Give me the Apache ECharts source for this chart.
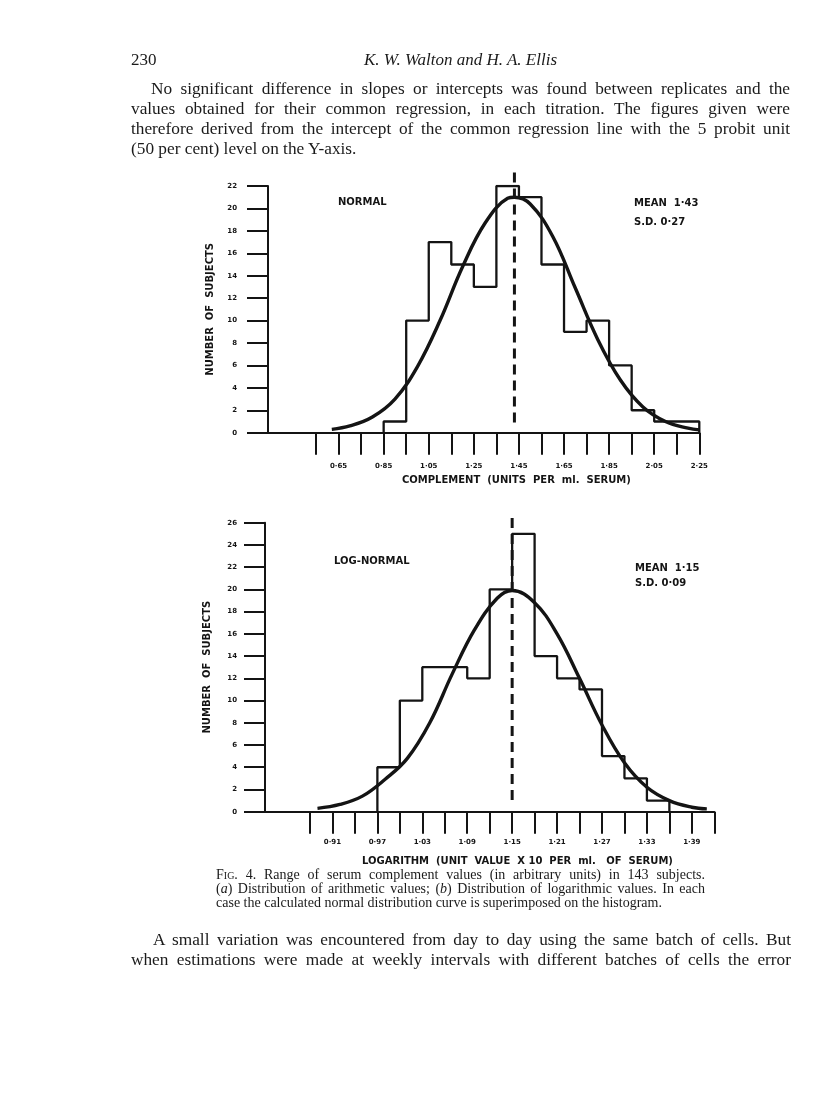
<!DOCTYPE html>
<html>
<head>
<meta charset="utf-8">
<script src="https://cdn.jsdelivr.net/npm/echarts@6/dist/echarts.min.js"></script>
<style>
  html, body { margin:0; padding:0; background:#fff; }
  #page { position:relative; width:816px; height:1108px; overflow:hidden; background:#fff; }
  #chart { position:absolute; left:0; top:0; width:816px; height:1108px; }
  .txt { position:absolute; font-family:"Liberation Serif","DejaVu Serif",serif; color:#1a1a1a; }
  .ln { text-align:justify; text-align-last:justify; white-space:nowrap; }
  .last { text-align:left; text-align-last:left; }
</style>
</head>
<body>
<div id="page">
  <div id="chart"></div>
  <div class="txt" style="left:131px;top:50px;font-size:17px;line-height:20px;">230</div>
  <div class="txt" style="left:131px;top:50px;width:659px;text-align:center;font-size:17px;line-height:20px;font-style:italic;">K. W. Walton and H. A. Ellis</div>
  <div class="txt" style="left:131px;top:79px;width:659px;font-size:17.3px;line-height:20px;">
    <div class="ln" style="padding-left:20px;">No significant difference in slopes or intercepts was found between replicates and the</div>
    <div class="ln">values obtained for their common regression, in each titration. The figures given were</div>
    <div class="ln">therefore derived from the intercept of the common regression line with the 5 probit unit</div>
    <div class="ln last">(50 per cent) level on the Y-axis.</div>
  </div>
  <div class="txt" style="left:216px;top:868px;width:489px;font-size:14px;line-height:14px;">
    <div class="ln">F<span style="font-variant:small-caps;">ig</span>. 4. Range of serum complement values (in arbitrary units) in 143 subjects.</div>
    <div class="ln">(<i>a</i>) Distribution of arithmetic values; (<i>b</i>) Distribution of logarithmic values. In each</div>
    <div class="ln last">case the calculated normal distribution curve is superimposed on the histogram.</div>
  </div>
  <div class="txt" style="left:131px;top:930px;width:660px;font-size:17.3px;line-height:20px;">
    <div class="ln" style="padding-left:22px;">A small variation was encountered from day to day using the same batch of cells. But</div>
    <div class="ln">when estimations were made at weekly intervals with different batches of cells the error</div>
  </div>
</div>
<script>
// ---------- Data ----------
// (a) Normal: arithmetic complement values
const topEdges  = [0.85, 0.95, 1.05, 1.15, 1.25, 1.35, 1.45, 1.55, 1.65, 1.75, 1.85, 1.95, 2.05, 2.15, 2.25];
const topCounts = [1, 10, 17, 15, 13, 22, 21, 15, 9, 10, 6, 2, 1, 1];
const topCurveX = [0.62, 0.70, 0.80, 0.90, 1.00, 1.10, 1.20, 1.30, 1.40, 1.43, 1.50, 1.60, 1.70, 1.80, 1.90, 2.00, 2.10, 2.20, 2.25];
const topCurveY = [0.3, 0.6, 1.4, 3.0, 5.9, 10.0, 14.8, 18.7, 20.9, 21.0, 20.4, 17.5, 12.9, 8.3, 4.7, 2.3, 1.0, 0.4, 0.25];
const topMean = 1.43;
const topMeanSpan = [0.9, 23.7];
const topTicks  = [0.55, 0.65, 0.75, 0.85, 0.95, 1.05, 1.15, 1.25, 1.35, 1.45, 1.55, 1.65, 1.75, 1.85, 1.95, 2.05, 2.15, 2.25];
const topLabels = [0.65, 0.85, 1.05, 1.25, 1.45, 1.65, 1.85, 2.05, 2.25];

// (b) Log-normal: logarithmic values
const botEdges  = [0.97, 1.00, 1.03, 1.06, 1.09, 1.12, 1.15, 1.18, 1.21, 1.24, 1.27, 1.30, 1.33, 1.36];
const botCounts = [4, 10, 13, 13, 12, 20, 25, 14, 12, 11, 5, 3, 1];
const botCurveX = [0.89, 0.92, 0.95, 0.98, 1.01, 1.04, 1.07, 1.10, 1.13, 1.15, 1.18, 1.21, 1.24, 1.27, 1.30, 1.33, 1.36, 1.39, 1.41];
const botCurveY = [0.3, 0.65, 1.4, 2.9, 4.8, 8.0, 12.4, 16.4, 19.2, 19.9, 18.8, 16.0, 12.0, 7.8, 4.4, 2.2, 1.0, 0.4, 0.25];
const botMean = 1.15;
const botMeanSpan = [1.05, 26.6];
const botTicks  = [0.88, 0.91, 0.94, 0.97, 1.00, 1.03, 1.06, 1.09, 1.12, 1.15, 1.18, 1.21, 1.24, 1.27, 1.30, 1.33, 1.36, 1.39, 1.42];
const botLabels = [0.91, 0.97, 1.03, 1.09, 1.15, 1.21, 1.27, 1.33, 1.39];

// ---------- Build ----------
function stepPoints(edges, counts) {
  const pts = [[edges[0], 0]];
  counts.forEach((c, i) => { pts.push([edges[i], c]); pts.push([edges[i + 1], c]); });
  pts.push([edges[edges.length - 1], 0]);
  return pts;
}
const zip = (xs, ys) => xs.map((x, i) => [x, ys[i]]);
const INK = '#141414';
const SANS = '"DejaVu Sans", "Liberation Sans", sans-serif';
const fmt = v => Number(v).toFixed(2).replace('.', '·');

function xAxisCfg(gridIndex, min, max, ticks, labels, margin) {
  return {
    gridIndex, type: 'value', min, max,
    axisLine: { show: true, onZero: false, lineStyle: { color: INK, width: 2 } },
    axisTick: { show: true, inside: false, length: 22, customValues: ticks, lineStyle: { color: INK, width: 2 } },
    axisLabel: { show: true, customValues: labels, formatter: fmt, margin,
      fontFamily: SANS, fontWeight: 'bold', fontSize: 7, color: INK },
    splitLine: { show: false }
  };
}
function yAxisCfg(gridIndex, max, margin) {
  return {
    gridIndex, type: 'value', min: 0, max, interval: 2,
    axisLine: { show: true, lineStyle: { color: INK, width: 2 } },
    axisTick: { show: true, inside: false, length: 21, lineStyle: { color: INK, width: 2 } },
    axisLabel: { margin, fontFamily: SANS, fontWeight: 'bold', fontSize: 7, color: INK },
    splitLine: { show: false },
    name: 'NUMBER  OF  SUBJECTS', nameLocation: 'middle', nameGap: 53, nameRotate: 90,
    nameTextStyle: { fontFamily: SANS, fontWeight: 'bold', fontSize: 10, color: INK }
  };
}
function seriesFor(idx, edges, counts, cx, cy, mean, span) {
  return [
    { type: 'line', xAxisIndex: idx, yAxisIndex: idx, data: stepPoints(edges, counts),
      symbol: 'none', lineStyle: { color: INK, width: 2.3 }, animation: false, z: 3 },
    { type: 'line', xAxisIndex: idx, yAxisIndex: idx, data: zip(cx, cy), smooth: 0.4,
      symbol: 'none', lineStyle: { color: INK, width: 3.4 }, animation: false, z: 4 },
    { type: 'line', xAxisIndex: idx, yAxisIndex: idx, data: [[mean, span[0]], [mean, span[1]]],
      symbol: 'none', clip: false, lineStyle: { color: INK, width: 3, type: [10, 6] }, animation: false, z: 5 }
  ];
}
function label(text, x, y, align, size) {
  return { type: 'text', left: x, top: y,
    style: { text, fill: INK, font: 'bold ' + (size || 10) + 'px ' + SANS, textAlign: align || 'left', textVerticalAlign: 'middle' } };
}

const chart = echarts.init(document.getElementById('chart'), null, { renderer: 'canvas' });
chart.setOption({
  backgroundColor: 'transparent',
  animation: false,
  grid: [
    { left: 268, top: 186, width: 431.3, height: 246.7 },
    { left: 265, top: 522.7, width: 449.3, height: 289 }
  ],
  xAxis: [
    xAxisCfg(0, 0.337, 2.25, topTicks, topLabels, 30),
    xAxisCfg(1, 0.8199, 1.42, botTicks, botLabels, 27)
  ],
  yAxis: [ yAxisCfg(0, 22, 31), yAxisCfg(1, 26, 28) ],
  series: [].concat(
    seriesFor(0, topEdges, topCounts, topCurveX, topCurveY, topMean, topMeanSpan),
    seriesFor(1, botEdges, botCounts, botCurveX, botCurveY, botMean, botMeanSpan)
  ),
  graphic: [
    label('NORMAL', 338, 197),
    label('MEAN  1·43', 634, 198),
    label('S.D. 0·27', 634, 217),
    label('COMPLEMENT  (UNITS  PER  ml.  SERUM)', 402, 475),
    label('LOG-NORMAL', 334, 556),
    label('MEAN  1·15', 635, 563),
    label('S.D. 0·09', 635, 578),
    label('LOGARITHM  (UNIT  VALUE  X 10  PER  ml.   OF  SERUM)', 362, 856)
  ]
});
</script>
</body>
</html>
